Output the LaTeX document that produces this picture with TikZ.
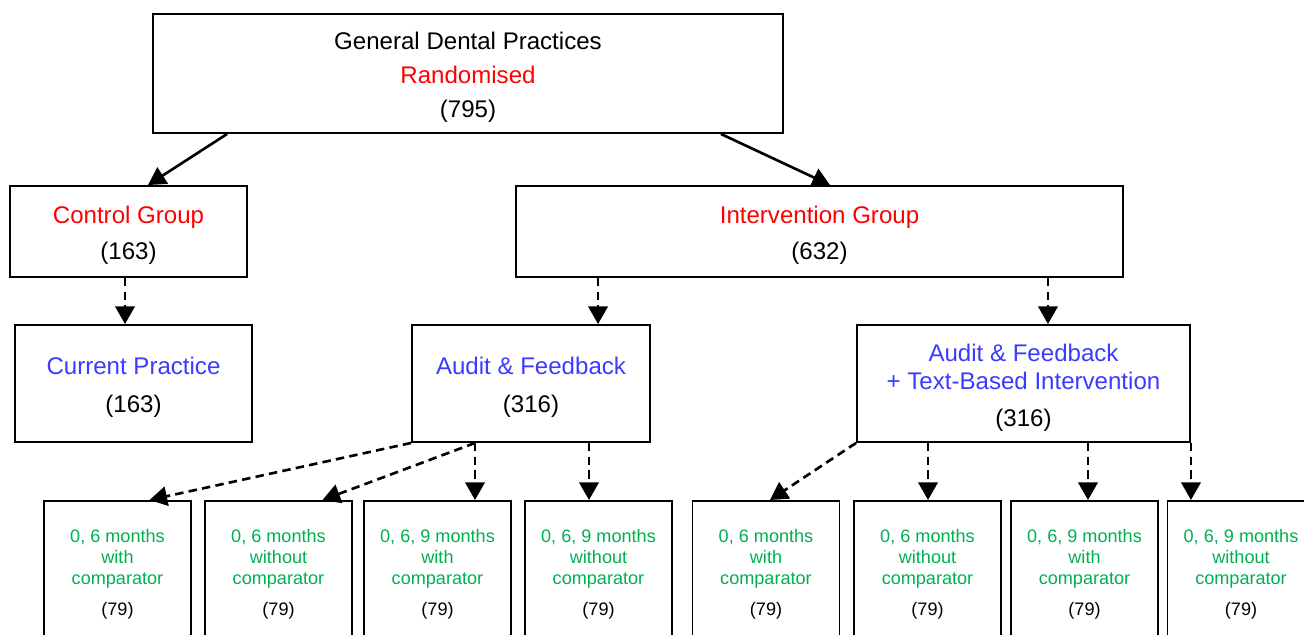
\documentclass[tikz,border=0pt]{standalone}
\usepackage{fontspec}
\setmainfont{Liberation Sans}
\usetikzlibrary{arrows.meta,positioning,calc}
\definecolor{grpred}{HTML}{FF0000}
\definecolor{armblue}{HTML}{3B3BFF}
\definecolor{schedgreen}{HTML}{00B050}
\newcommand{\tpad}{\rule{0pt}{14.5pt}}
\newcommand{\spad}{\rule{0pt}{9.7pt}}
\tikzset{
  flow/.style={-{Triangle[length=10pt,width=11pt]},line width=1.5pt},
  dflow/.style={flow,dash pattern=on 4.8pt off 3pt},
  box/.style={draw,line width=1.1pt,align=center,inner sep=0pt,font=\fontsize{13.7}{20.4}\selectfont},
  subbox/.style={draw,line width=1.1pt,align=center,inner sep=0pt,minimum width=2.94cm,
    minimum height=2.86cm,anchor=north,text=schedgreen,font=\fontsize{10.3}{11.9}\selectfont}
}

\begin{document}
\begin{tikzpicture}[x=0.02cm,y=-0.02cm]
\useasboundingbox (0,0) rectangle (1304,635);
\clip (0,0) rectangle (1304,635);
% top of the tree
\node[box,minimum width=12.6cm,minimum height=2.38cm,font=\fontsize{13.7}{19.3}\selectfont] (gdp) at (468,73.5)
  {\tpad General Dental Practices\\\textcolor{grpred}{Randomised}\\(795)};
\node[box,minimum width=4.74cm,minimum height=1.82cm] (ctrl) at (128.5,231.5) {\tpad\textcolor{grpred}{Control Group}\\(163)};
\node[box,minimum width=12.14cm,minimum height=1.82cm] (intv) at (819.5,231.5) {\tpad\textcolor{grpred}{Intervention Group}\\(632)};
% arms
\node[box,minimum width=4.74cm,minimum height=2.34cm,font=\fontsize{13.7}{21.5}\selectfont] (cur) at (133.5,383.5)
  {\tpad\textcolor{armblue}{Current Practice}\\(163)};
\node[box,minimum width=4.76cm,minimum height=2.34cm,font=\fontsize{13.7}{21.5}\selectfont] (af) at (531,383.5)
  {\tpad\textcolor{armblue}{Audit \& Feedback}\\(316)};
\node[box,minimum width=6.66cm,minimum height=2.34cm,font=\fontsize{13.7}{15.9}\selectfont] (aft) at (1023.5,383.5)
  {\tpad\textcolor{armblue}{Audit \& Feedback}\\\textcolor{armblue}{+ Text-Based Intervention}\\[5pt](316)};
% schedules
\node[subbox] (s1) at (117.5,500) {\spad 0, 6 months\\with\\comparator\\[5.7pt]\textcolor{black}{(79)}};
\node[subbox] (s2) at (278.5,500) {\spad 0, 6 months\\without\\comparator\\[5.7pt]\textcolor{black}{(79)}};
\node[subbox] (s3) at (437.5,500) {\spad 0, 6, 9 months\\with\\comparator\\[5.7pt]\textcolor{black}{(79)}};
\node[subbox] (s4) at (598.5,500) {\spad 0, 6, 9 months\\without\\comparator\\[5.7pt]\textcolor{black}{(79)}};
\node[subbox] (s5) at (766,500) {\spad 0, 6 months\\with\\comparator\\[5.7pt]\textcolor{black}{(79)}};
\node[subbox] (s6) at (927.5,500) {\spad 0, 6 months\\without\\comparator\\[5.7pt]\textcolor{black}{(79)}};
\node[subbox] (s7) at (1084.5,500) {\spad 0, 6, 9 months\\with\\comparator\\[5.7pt]\textcolor{black}{(79)}};
\node[subbox] (s8) at (1241,500) {\spad 0, 6, 9 months\\without\\comparator\\[5.7pt]\textcolor{black}{(79)}};

% randomisation
\draw[flow] ([xshift=1.5cm]gdp.south west) -- ([xshift=0.39cm]ctrl.north);
\draw[flow] ([xshift=-1.26cm]gdp.south east) -- ([xshift=0.21cm]intv.north);

% groups to arms
\coordinate (c1) at ([xshift=-0.07cm]ctrl.south);
\draw[dflow] (c1) -- (c1 |- cur.north);
\coordinate (i1) at ([xshift=-4.43cm]intv.south);
\draw[dflow] (i1) -- (i1 |- af.north);
\coordinate (i2) at ([xshift=4.57cm]intv.south);
\draw[dflow] (i2) -- (i2 |- aft.north);

% arms to schedules
\draw[dflow] (af.south west) -- ([xshift=0.64cm]s1.north);
\coordinate (a2) at ([xshift=-1.12cm]af.south);
\draw[dflow] (a2) -- ([xshift=0.88cm]s2.north);
\draw[dflow] (a2) -- (a2 |- s3.north);
\coordinate (a4) at ([xshift=1.16cm]af.south);
\draw[dflow] (a4) -- (a4 |- s4.north);
\draw[dflow] (aft.south west) -- ([xshift=0.08cm]s5.north);
\coordinate (t2) at ([xshift=-1.91cm]aft.south);
\draw[dflow] (t2) -- (t2 |- s6.north);
\coordinate (t3) at ([xshift=1.29cm]aft.south);
\draw[dflow] (t3) -- (t3 |- s7.north);
\draw[dflow] (aft.south east) -- (aft.south east |- s8.north);
\end{tikzpicture}
\end{document}
